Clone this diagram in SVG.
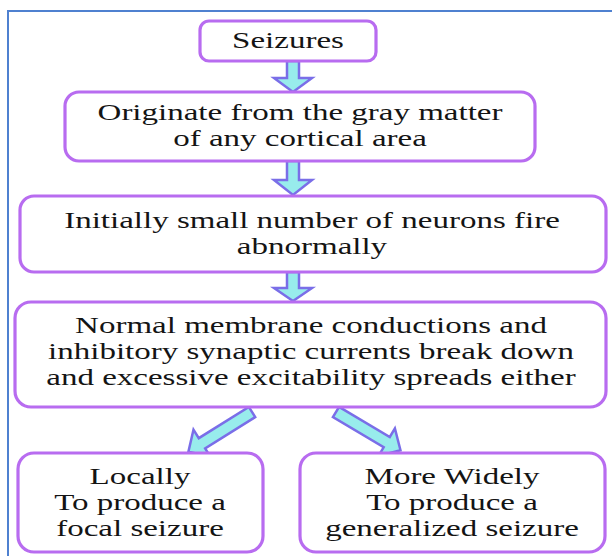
<svg xmlns="http://www.w3.org/2000/svg" width="612" height="556" viewBox="0 0 612 556">
<defs>
<style>
.box{fill:#fff;stroke:#b86cf0;stroke-width:3.2}
.lbl{font-size:24px;fill:#141414;text-anchor:middle}
.arr{fill:#98ecec;stroke:#7a6ee8;stroke-width:2.5;stroke-linejoin:miter}
</style>
<path id="diag" d="M0,-6 H59 V-16 L75,0 L59,16 V6 H0 Z"/>
</defs>
<rect x="0" y="0" width="612" height="556" fill="#fff"/>
<rect x="8" y="11" width="620" height="570" fill="none" stroke="#4f81d0" stroke-width="2"/>
<g id="connectors">
<path class="arr" d="M287,61 H299 V78 H312 L293,92 L274,78 H287 Z"/>
<path class="arr" d="M287,161 H299 V180 H312 L293,195 L274,180 H287 Z"/>
<path class="arr" d="M287,272 H299 V288 H312 L293,301 L274,288 H287 Z"/>
<use href="#diag" class="arr" transform="translate(252,412) rotate(148)"/>
<use href="#diag" class="arr" transform="translate(336,412) rotate(30.7)"/>
</g>
<g font-family="'Liberation Serif', 'Times New Roman', serif">
<g id="n1">
<rect class="box" x="200" y="21" width="176" height="40" rx="9"/>
<text class="lbl" transform="matrix(1.375 0 0 1 288 0)"><tspan x="0" y="48">Seizures</tspan></text>
</g>
<g id="n2">
<rect class="box" x="65" y="92" width="470" height="69" rx="14"/>
<text class="lbl" transform="matrix(1.375 0 0 1 300 0)"><tspan x="0" y="120">Originate from the gray matter</tspan><tspan x="0" y="146">of any cortical area</tspan></text>
</g>
<g id="n3">
<rect class="box" x="20" y="196" width="586" height="76" rx="14"/>
<text class="lbl" transform="matrix(1.375 0 0 1 312 0)"><tspan x="0" y="228">Initially small number of neurons fire</tspan><tspan x="0" y="254">abnormally</tspan></text>
</g>
<g id="n4">
<rect class="box" x="15" y="302" width="591" height="105" rx="16"/>
<text class="lbl" transform="matrix(1.375 0 0 1 311 0)"><tspan x="0" y="333">Normal membrane conductions and</tspan><tspan x="0" y="359">inhibitory synaptic currents break down</tspan><tspan x="0" y="385">and excessive excitability spreads either</tspan></text>
</g>
<g id="n5">
<rect class="box" x="18" y="453" width="245" height="99" rx="16"/>
<text class="lbl" transform="matrix(1.375 0 0 1 140 0)"><tspan x="0" y="484">Locally</tspan><tspan x="0" y="510">To produce a</tspan><tspan x="0" y="536">focal seizure</tspan></text>
</g>
<g id="n6">
<rect class="box" x="300" y="453" width="305" height="99" rx="16"/>
<text class="lbl" transform="matrix(1.375 0 0 1 452 0)"><tspan x="0" y="484">More Widely</tspan><tspan x="0" y="510">To produce a</tspan><tspan x="0" y="536">generalized seizure</tspan></text>
</g>
</g>
</svg>
